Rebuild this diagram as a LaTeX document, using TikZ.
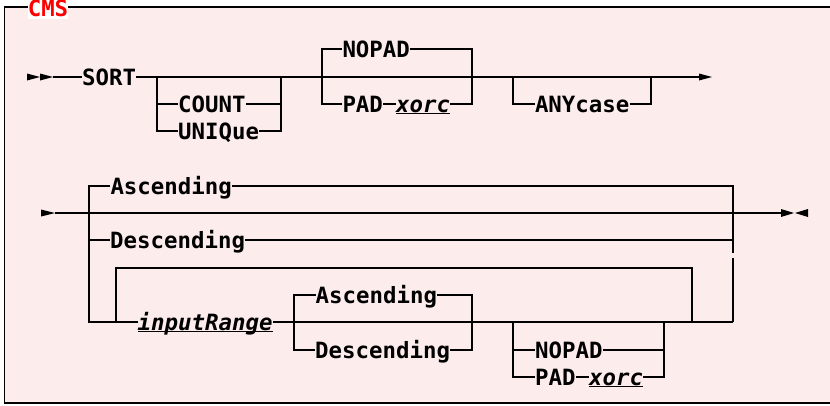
\documentclass[tikz,border=0pt]{standalone}
\usepackage{fontspec}
\setmonofont{DejaVu Sans Mono}[BoldFont={DejaVu Sans Mono Bold},ItalicFont={DejaVu Sans Mono Oblique},BoldItalicFont={DejaVu Sans Mono Bold Oblique}]
\definecolor{bgpink}{RGB}{253,236,236}
\definecolor{cmsred}{RGB}{255,0,0}
\tikzset{
  rr/.style={line width=1.3pt},
  kw/.style={inner sep=0pt, text height=16pt, text depth=0pt, anchor=west,
    font=\ttfamily\bfseries\fontsize{22.4}{24}\selectfont},
  var/.style={kw, font=\ttfamily\bfseries\itshape\fontsize{22.4}{24}\selectfont},
  tip/.style={fill=black, draw=none},
}
\begin{document}
\begin{tikzpicture}[x=1pt,y=-1pt]
\useasboundingbox (0,0) rectangle (830,405);
\clip (0,0) rectangle (830,405);
% frame
\draw[line width=1.3pt, fill=bgpink] (4.5,7) rectangle (845,403);
\fill[white] (28,0) rectangle (68,19);
\node[kw, anchor=center, text=cmsred] (cms) at (48,8.6) {CMS};

% ---------- row 1 ----------
\coordinate (s1) at (53,77);
\coordinate (e1) at (699,77);
\fill[tip] (27,73.5) -- (40,77) -- (27,80.5) -- cycle;
\fill[tip] (40,73.5) -- (53,77) -- (40,80.5) -- cycle;
\fill[tip] (e1) ++(0,-3.5) -- (712,77) -- (699,80.5) -- cycle;

\node[kw] (sort) at (82,77) {SORT};
\draw[rr] (s1) -- (sort.west);
\draw[rr] (sort.east) -- (e1);

% COUNT / UNIQue
\coordinate (a1) at (157,77);
\coordinate (a2) at (281,77);
\node[kw] (count) at (178,104) {COUNT};
\node[kw] (uniq) at (178,131) {UNIQue};
\draw[rr] (a1) |- (uniq.west);
\draw[rr] (a1 |- count.west) -- (count.west);
\draw[rr] (uniq.east) -| (a2);
\draw[rr] (count.east) -- (a2 |- count.east);

% NOPAD / PAD xorc
\coordinate (b1) at (322,77);
\coordinate (b2) at (472,77);
\node[kw] (nopad) at (342.3,49) {NOPAD};
\node[kw] (pad) at (342.3,104) {PAD};
\node[var] (xorc) at (396,104) {xorc};
\draw[rr] (b1) |- (nopad.west);
\draw[rr] (b1) |- (pad.west);
\draw[rr] (pad.east) -- (xorc.west);
\draw[rr] (nopad.east) -| (b2);
\draw[rr] (xorc.east) -| (b2);
\draw[line width=1.3pt] ([yshift=-1.5pt]xorc.south west) -- ([yshift=-1.5pt]xorc.south east);

% ANYcase
\coordinate (c1) at (513,77);
\coordinate (c2) at (651,77);
\node[kw] (any) at (534.8,104) {ANYcase};
\draw[rr] (c1) |- (any.west);
\draw[rr] (any.east) -| (c2);

% ---------- row 2 ----------
\coordinate (s2) at (55,213);
\coordinate (e2) at (781,213);
\fill[tip] (41,209.5) -- (55,213) -- (41,216.5) -- cycle;
\fill[tip] (781,209) -- (794,213) -- (781,217) -- cycle;
\fill[tip] (808,209) -- (795,213) -- (808,217) -- cycle;
\draw[rr] (s2) -- (e2);

\coordinate (L) at (89,213);
\coordinate (R) at (733,213);
\node[kw] (asc) at (110.3,186) {Ascending};
\node[kw] (desc) at (110,240) {Descending};
\node[var] (inp) at (137.5,322) {inputRange};
\draw[line width=1.3pt] ([yshift=-1.5pt]inp.south west) -- ([yshift=-1.5pt]inp.south east);

\draw[rr] (asc.west) -| (L |- inp.west) -- (inp.west);
\draw[rr] (L |- desc.west) -- (desc.west);
\draw[rr] (asc.east) -| (733,253);
\draw[rr] (desc.east) -- (R |- desc.east);
\draw[line width=2.6pt] (733,258) -- (733,281);
\draw[rr] (733,281) -- (733,322);

% repeat loop
\coordinate (l1) at (116,322);
\coordinate (l2) at (692,322);
\draw[rr] (l1) |- (692,268) -- (l2);

% Ascending / Descending
\coordinate (d1) at (294,322);
\coordinate (d2) at (472,322);
\node[kw] (asc2) at (315.5,295) {Ascending};
\node[kw] (desc2) at (315,350) {Descending};
\draw[rr] (inp.east) -- (733,322);
\draw[rr] (d1) |- (asc2.west);
\draw[rr] (d1) |- (desc2.west);
\draw[rr] (asc2.east) -| (d2);
\draw[rr] (desc2.east) -| (d2);

% NOPAD / PAD xorc
\coordinate (f1) at (513,322);
\coordinate (f2) at (664,322);
\node[kw] (nopad2) at (535,350) {NOPAD};
\node[kw] (pad2) at (535,377) {PAD};
\node[var] (xorc2) at (589,377) {xorc};
\draw[rr] (f1) |- (pad2.west);
\draw[rr] (f1 |- nopad2.west) -- (nopad2.west);
\draw[rr] (pad2.east) -- (xorc2.west);
\draw[rr] (xorc2.east) -| (f2);
\draw[rr] (nopad2.east) -- (f2 |- nopad2.east);
\draw[line width=1.3pt] ([yshift=-1.5pt]xorc2.south west) -- ([yshift=-1.5pt]xorc2.south east);
\end{tikzpicture}
\end{document}
